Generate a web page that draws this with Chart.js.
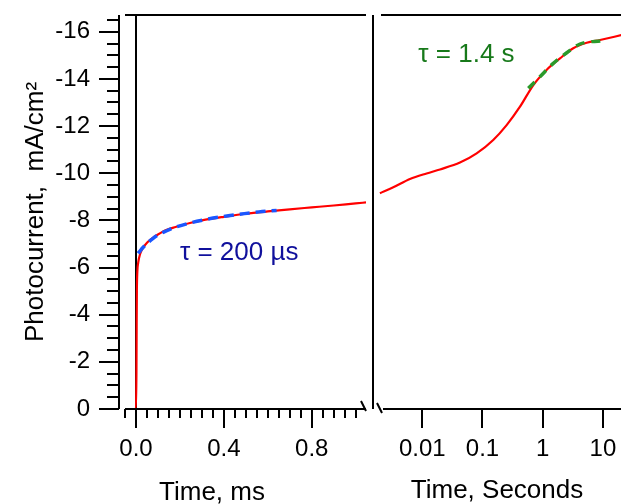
<!DOCTYPE html>
<html>
<head>
<meta charset="utf-8">
<script src="https://cdn.jsdelivr.net/npm/chart.js@4"></script>
<style>
  body { margin: 0; background: #fff; }
  canvas { position: absolute; top: 0; }
  #left { left: 0; }
  #right { left: 370px; }
</style>
</head>
<body>
<canvas id="left" width="370" height="504"></canvas>
<canvas id="right" width="254" height="504"></canvas>
<script>
    // fast part, time in ms
    const msTime = [-0.05, 0, 0.002, 0.003, 0.004, 0.006, 0.01, 0.018, 0.03, 0.05, 0.075, 0.1, 0.14, 0.18, 0.25, 0.3, 0.4, 0.5, 0.6, 0.7, 0.8, 0.9, 1.0, 1.047];
    const msCurrent = [0, 0, -1.5, -3.5, -5.0, -5.8, -6.2, -6.55, -6.8, -7.05, -7.25, -7.4, -7.6, -7.72, -7.9, -8.0, -8.15, -8.28, -8.38, -8.47, -8.55, -8.63, -8.72, -8.76];

    // fit, tau = 200 us
    const msFitTime = [0.01, 0.02, 0.035, 0.05, 0.075, 0.1, 0.14, 0.18, 0.25, 0.32, 0.4, 0.48, 0.56, 0.64];
    const msFitCurrent = [-6.6, -6.72, -6.88, -7.02, -7.22, -7.38, -7.56, -7.71, -7.9, -8.04, -8.17, -8.27, -8.36, -8.42];

    // slow part, time in seconds
    const sTime = [0.00198, 0.0033, 0.00625, 0.0118, 0.0197, 0.0423, 0.08, 0.151, 0.252, 0.42, 0.70, 1.16, 1.94, 3.22, 5.38, 8.96, 20.5];
    const sCurrent = [-9.15, -9.40, -9.75, -9.99, -10.16, -10.45, -10.84, -11.41, -12.04, -12.82, -13.74, -14.38, -14.87, -15.30, -15.53, -15.65, -15.86];

    // fit, tau = 1.4 s
    const sFitTime = [0.577, 0.9, 1.5, 2.51, 4.17, 9.55];
    const sFitCurrent = [-13.6, -14.09, -14.66, -15.11, -15.48, -15.62];

    // ticks
    const yLabels = [0, -2, -4, -6, -8, -10, -12, -14, -16];
    const msLabels = [0, 0.4, 0.8];
    const sLabels = [0.01, 0.1, 1, 10];

    const yTicks = [];
    for (let k = 0; k <= 33; k++) yTicks.push(-k / 2);
    const msTicks = [];
    for (let k = -1; k <= 20; k++) msTicks.push(Math.round(k * 5) / 100);

    const pts = (xs, ys) => xs.map((x, i) => ({ x: x, y: ys[i] }));
    const isIn = (list, v) => list.some(m => Math.abs(m - v) < 1e-9);

    const FONT = '"Liberation Sans", Arial, sans-serif';
    const tickFont = { family: FONT, size: 24 };

    const leftFrame = {
      id: 'leftFrame',
      afterDraw(chart) {
        const { ctx, chartArea: a, scales: { x, y } } = chart;
        const ax = a.left - 6;
        ctx.save();
        ctx.strokeStyle = '#000';
        ctx.lineWidth = 2;
        ctx.beginPath();
        ctx.moveTo(ax, a.top); ctx.lineTo(ax, a.bottom);
        ctx.moveTo(a.left, a.bottom); ctx.lineTo(a.right, a.bottom);
        ctx.moveTo(a.left, a.top); ctx.lineTo(a.right, a.top);
        y.ticks.forEach(t => {
          const p = Math.round(y.getPixelForValue(t.value));
          const len = isIn(yLabels, t.value) ? 20 : 12;
          ctx.moveTo(ax - len, p); ctx.lineTo(ax, p);
        });
        x.ticks.forEach(t => {
          const p = Math.round(x.getPixelForValue(t.value));
          const len = isIn(msLabels, t.value) ? 19 : 9;
          ctx.moveTo(p, a.bottom); ctx.lineTo(p, a.bottom + len);
        });
        // axis break
        ctx.moveTo(a.right - 5, a.bottom - 8); ctx.lineTo(a.right, a.bottom + 2);
        ctx.stroke();

        ctx.fillStyle = '#000';
        ctx.font = '26px ' + FONT;
        ctx.textAlign = 'center';
        ctx.textBaseline = 'alphabetic';
        ctx.fillText('Time, ms', 212, 500);

        ctx.fillStyle = '#10109c';
        ctx.font = '26px ' + FONT;
        ctx.textAlign = 'left';
        ctx.fillText('τ = 200 µs', x.getPixelForValue(0.2), y.getPixelForValue(-6.33));
        ctx.restore();
      }
    };

    const rightFrame = {
      id: 'rightFrame',
      afterDraw(chart) {
        const { ctx, chartArea: a, scales: { x, y } } = chart;
        ctx.save();
        ctx.strokeStyle = '#000';
        ctx.lineWidth = 2;
        ctx.beginPath();
        ctx.moveTo(a.left, a.top); ctx.lineTo(a.left, a.bottom);
        ctx.moveTo(a.left + 8, a.top); ctx.lineTo(a.right, a.top);
        ctx.moveTo(a.left + 10, a.bottom); ctx.lineTo(a.right, a.bottom);
        x.ticks.forEach(t => {
          const p = Math.round(x.getPixelForValue(t.value));
          ctx.moveTo(p, a.bottom); ctx.lineTo(p, a.bottom + 19);
        });
        ctx.moveTo(a.left + 4, a.bottom - 6); ctx.lineTo(a.left + 9, a.bottom + 4);
        ctx.stroke();

        ctx.fillStyle = '#17791a';
        ctx.font = '26px ' + FONT;
        ctx.textAlign = 'left';
        ctx.textBaseline = 'alphabetic';
        ctx.fillText('τ = 1.4 s', x.getPixelForValue(0.0086), y.getPixelForValue(-14.73));
        ctx.restore();
      }
    };

    const yRange = { min: -16.71, max: 0, reverse: true };

    new Chart(document.getElementById('left'), {
      type: 'line',
      data: {
        datasets: [{
          data: pts(msFitTime, msFitCurrent),
          borderColor: '#1a56ff',
          borderWidth: 3.5,
          borderDash: [10, 6],
          pointRadius: 0,
          cubicInterpolationMode: 'monotone'
        }, {
          data: pts(msTime, msCurrent),
          borderColor: '#ff0000',
          borderWidth: 2.2,
          pointRadius: 0,
          cubicInterpolationMode: 'monotone'
        }]
      },
      options: {
        responsive: false,
        animation: false,
        layout: { padding: { top: 15, right: 4, left: 0, bottom: 0 }, autoPadding: false },
        plugins: { legend: { display: false }, tooltip: { enabled: false } },
        scales: {
          x: {
            type: 'linear', min: -0.05, max: 1.047,
            afterBuildTicks: s => { s.ticks = msTicks.map(v => ({ value: v })); },
            afterFit: s => { s.height = 95; s.paddingLeft = 0; s.paddingRight = 0; },
            ticks: {
              autoSkip: false, maxRotation: 0, padding: 26, color: '#000', font: tickFont,
              callback: v => isIn(msLabels, v) ? v.toFixed(1) : ''
            },
            grid: {
              drawTicks: false, lineWidth: 2,
              color: c => (c.tick && Math.abs(c.tick.value) < 1e-9) ? '#000' : 'rgba(0,0,0,0)'
            },
            border: { display: false }
          },
          y: {
            type: 'linear', ...yRange,
            afterBuildTicks: s => { s.ticks = yTicks.map(v => ({ value: v })); },
            afterFit: s => { s.width = 125; s.paddingTop = 0; s.paddingBottom = 0; },
            ticks: {
              autoSkip: false, padding: 35, color: '#000', font: tickFont,
              callback: v => isIn(yLabels, v) ? String(v) : ''
            },
            grid: { display: false, drawTicks: false },
            border: { display: false },
            title: {
              display: true, text: 'Photocurrent,  mA/cm²', color: '#000',
              font: { family: FONT, size: 26, lineHeight: 1 },
              padding: { top: 23, bottom: 0 }
            }
          }
        }
      },
      plugins: [leftFrame]
    });

    new Chart(document.getElementById('right'), {
      type: 'line',
      data: {
        datasets: [{
          data: pts(sFitTime, sFitCurrent),
          borderColor: '#2a9a2a',
          borderWidth: 3.5,
          borderDash: [9, 7],
          pointRadius: 0,
          cubicInterpolationMode: 'monotone'
        }, {
          data: pts(sTime, sCurrent),
          borderColor: '#ff0000',
          borderWidth: 2.2,
          pointRadius: 0,
          cubicInterpolationMode: 'monotone'
        }]
      },
      options: {
        responsive: false,
        animation: false,
        layout: { padding: { top: 15, right: 3, left: 3, bottom: 0 }, autoPadding: false },
        plugins: { legend: { display: false }, tooltip: { enabled: false } },
        scales: {
          x: {
            type: 'logarithmic', min: 0.00152, max: 20,
            afterBuildTicks: s => { s.ticks = sLabels.map(v => ({ value: v })); },
            afterFit: s => { s.height = 95; s.paddingLeft = 0; s.paddingRight = 0; },
            ticks: {
              autoSkip: false, maxRotation: 0, padding: 26, color: '#000', font: tickFont,
              callback: v => String(v)
            },
            grid: { display: false, drawTicks: false },
            border: { display: false },
            title: {
              display: true, text: 'Time, Seconds', color: '#000',
              font: { family: FONT, size: 26, lineHeight: 1 },
              padding: { top: 0, bottom: 0 }
            }
          },
          y: {
            type: 'linear', ...yRange, display: false
          }
        }
      },
      plugins: [rightFrame]
    });
</script>
</body>
</html>
